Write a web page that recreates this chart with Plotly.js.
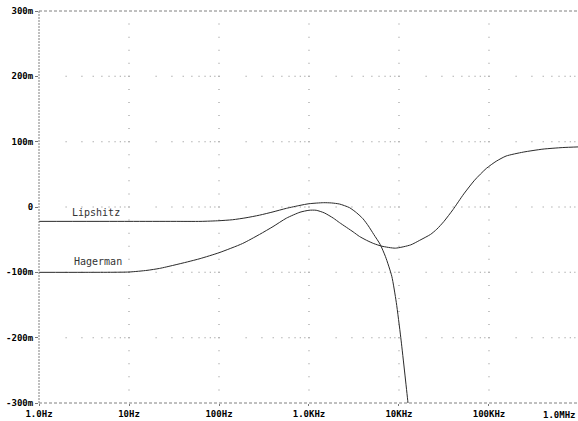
<!DOCTYPE html>
<html>
<head>
<meta charset="utf-8">
<script src="https://cdn.plot.ly/plotly-3.0.1.min.js"></script>
<style>html,body{margin:0;padding:0;background:#fff;overflow:hidden}</style>
</head>
<body>
<div id="chart" style="width:578px;height:421px"></div>
<script>
// Frequencies as log10(Hz) exponents, values in milli-units
const lipLogF = [0, 1.0, 1.5, 1.8, 2.0, 2.15, 2.3, 2.45, 2.6, 2.75, 2.9, 3.0, 3.16, 3.25, 3.34, 3.45, 3.53, 3.6, 3.66, 3.72, 3.79, 3.85, 3.92, 3.97, 4.02, 4.10, 4.15];
const lipVal  = [-22, -22, -22, -22, -21, -19.5, -16.5, -12.5, -7.5, -2, 2.5, 5, 6.6, 6.2, 4.5, -1, -9, -18, -29, -42, -57, -76, -106, -146, -200, -300, -370];
const hagLogF = [0, 0.5, 1.0, 1.2, 1.34, 1.5, 1.65, 1.79, 2.0, 2.26, 2.45, 2.6, 2.75, 2.9, 3.0, 3.08, 3.17, 3.27, 3.34, 3.49, 3.56, 3.64, 3.72, 3.81, 3.96, 4.13, 4.23, 4.35, 4.42, 4.5, 4.6, 4.72, 4.84, 4.97, 5.08, 5.19, 5.38, 5.6, 5.82, 6.0];
const hagVal  = [-100, -100, -99.5, -97, -94, -89, -84, -79, -70, -56, -42, -30, -17, -8, -5, -5, -9, -17, -24, -38, -45, -51, -56, -60, -63, -58, -51, -42, -34, -22, -4, 20, 41, 59, 70, 78, 84, 88.6, 91, 92];
const seriesNames = ["Lipshitz", "Hagerman"];
const xTickExp = [0, 1, 2, 3, 4, 5, 6];
const xTickText = ["1.0Hz", "10Hz", "100Hz", "1.0KHz", "10KHz", "100KHz", "1.0MHz"];
const yTickVals = [300, 200, 100, 0, -100, -200, -300];
const yTickText = ["300m", "200m", "100m", "0", "-100m", "-200m", "-300m"];

const toHz = a => a.map(e => Math.pow(10, e));

// grid dots (PSpice style dotted grid)
const gx = [], gy = [];
for (let d = 1; d < 6; d++) {
  for (let y = -280; y <= 280; y += 20) { gx.push(Math.pow(10, d)); gy.push(y); }
}
yTickVals.filter(v => Math.abs(v) < 300).forEach(v => {
  for (let d = 0; d < 6; d++) for (let k = 2; k <= 10; k++) { gx.push(k * Math.pow(10, d)); gy.push(v); }
});

const traces = [
  {x: gx, y: gy, mode: 'markers', type: 'scatter', hoverinfo: 'skip',
   marker: {symbol: 'square', size: 1, color: '#8c8c8c', line: {width: 0}}},
  {x: toHz(lipLogF), y: lipVal, name: seriesNames[0], mode: 'lines', type: 'scatter',
   line: {color: '#2a2a2a', width: 1, shape: 'spline', smoothing: 0.6}},
  {x: toHz(hagLogF), y: hagVal, name: seriesNames[1], mode: 'lines', type: 'scatter',
   line: {color: '#2a2a2a', width: 1, shape: 'spline', smoothing: 0.6}}
];

const tickFont = {family: 'DejaVu Sans Mono', size: 9, color: '#000', weight: 'bold'};
const layout = {
  width: 578, height: 421,
  margin: {l: 39, r: 0, t: 11, b: 18, pad: 0},
  paper_bgcolor: '#fff', plot_bgcolor: '#fff',
  showlegend: false,
  xaxis: {type: 'log', range: [0, 5.989], showgrid: false, zeroline: false, showline: false,
    tickvals: toHz(xTickExp.slice(0, 6)), ticktext: xTickText.slice(0, 6),
    ticks: 'outside', ticklen: 2, tickcolor: '#777', tickwidth: 1, tickfont: tickFont},
  yaxis: {range: [-300, 300], showgrid: false, zeroline: false, showline: false,
    tickvals: yTickVals, ticktext: yTickText,
    ticks: 'outside', ticklen: 3, tickcolor: '#777', tickwidth: 1, tickfont: tickFont},
  shapes: [
    {type: 'line', xref: 'paper', yref: 'paper', x0: 0, x1: 0, y0: 0, y1: 1, line: {color: '#808080', width: 1, dash: '2px,1px'}},
    {type: 'line', xref: 'paper', yref: 'paper', x0: 0, x1: 1, y0: 1, y1: 1, line: {color: '#808080', width: 1, dash: '3px,2px'}},
    {type: 'line', xref: 'paper', yref: 'paper', x0: 0, x1: 1, y0: 0, y1: 0, line: {color: '#808080', width: 1, dash: '3px,2px'}}
  ],
  annotations: [
    {text: seriesNames[0], x: 0.349, y: -9, xref: 'x', yref: 'y', xanchor: 'left', yanchor: 'middle', showarrow: false,
     font: {family: 'DejaVu Sans Mono', size: 10, color: '#333'}},
    {text: seriesNames[1], x: 0.37, y: -84, xref: 'x', yref: 'y', xanchor: 'left', yanchor: 'middle', showarrow: false,
     font: {family: 'DejaVu Sans Mono', size: 10, color: '#333'}},
    {text: xTickText[6], x: 1, y: 0, xref: 'paper', yref: 'paper', xanchor: 'right', yanchor: 'top', yshift: -5, showarrow: false,
     font: tickFont}
  ]
};
Plotly.newPlot('chart', traces, layout, {displayModeBar: false, staticPlot: true});
</script>
</body>
</html>
